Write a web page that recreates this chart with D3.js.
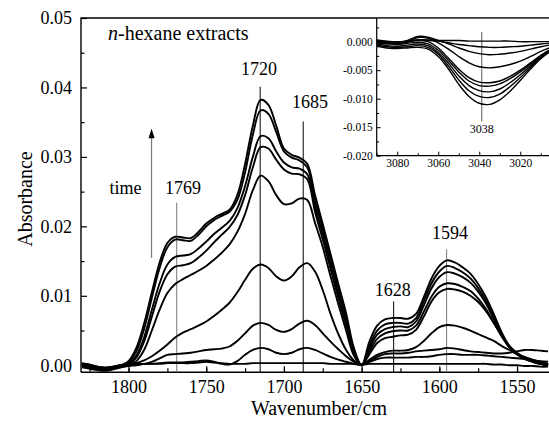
<!DOCTYPE html>
<html><head><meta charset="utf-8">
<script src="https://cdn.jsdelivr.net/npm/d3@7"></script>
<style>
body{margin:0;background:#fff}
svg{display:block}
text{font-family:"Liberation Serif","Times New Roman",serif;fill:#000}
</style>
</head><body>
<svg id="chart" width="549" height="422"></svg>
<script>
// ---------- DATA ----------
const wavenumbers = [1830,1825,1820,1815,1810,1805,1800,1795,1790,1785,1780,1775,1770,1765,1760,1755,1750,1745,1740,1735,1730,1725,1720,1715,1710,1705,1700,1695,1690,1685,1680,1675,1670,1665,1660,1655,1650,1645,1640,1635,1630,1625,1620,1615,1610,1605,1600,1595,1590,1585,1580,1575,1570,1565,1560,1555,1550,1545,1540,1535,1530];

const spectrum1 = [0.0002,0.0001,-0.0003,-0.0005,-0.0003,0.0000,0.0006,0.0025,0.0060,0.0105,
 0.0148,0.0176,0.0185,0.0184,0.0183,0.0192,0.0204,0.0212,0.0218,0.0224,
 0.0245,0.0290,0.0345,0.0382,0.0375,0.0345,0.0312,0.0303,0.0299,0.0290,
 0.0245,0.0203,0.0160,0.0117,0.0075,0.0025,0.0000,0.0034,0.0057,0.0066,
 0.0068,0.0068,0.0067,0.0074,0.0098,0.0125,0.0143,0.0151,0.0148,0.0141,
 0.0132,0.0117,0.0098,0.0074,0.0048,0.0028,0.0017,0.0010,0.0006,0.0002,
 0.0000];
const spectrum2 = [0.0000,-0.0002,-0.0004,-0.0006,-0.0004,-0.0001,0.0004,0.0020,0.0052,0.0097,
 0.0140,0.0170,0.0181,0.0180,0.0179,0.0188,0.0200,0.0209,0.0215,0.0221,
 0.0238,0.0278,0.0332,0.0367,0.0362,0.0336,0.0308,0.0299,0.0295,0.0285,
 0.0238,0.0197,0.0155,0.0112,0.0071,0.0022,0.0000,0.0028,0.0050,0.0059,
 0.0061,0.0061,0.0060,0.0068,0.0092,0.0118,0.0135,0.0143,0.0140,0.0134,
 0.0125,0.0111,0.0093,0.0070,0.0046,0.0027,0.0016,0.0009,0.0005,0.0002,
 0.0000];
const spectrum3 = [0.0003,0.0001,-0.0002,-0.0004,-0.0003,-0.0001,0.0002,0.0014,0.0040,0.0080,
 0.0118,0.0145,0.0156,0.0158,0.0160,0.0168,0.0178,0.0189,0.0198,0.0208,
 0.0226,0.0258,0.0300,0.0330,0.0327,0.0308,0.0292,0.0285,0.0283,0.0275,
 0.0229,0.0189,0.0147,0.0104,0.0064,0.0020,0.0000,0.0024,0.0044,0.0052,
 0.0055,0.0056,0.0055,0.0063,0.0086,0.0111,0.0127,0.0134,0.0132,0.0127,
 0.0119,0.0106,0.0089,0.0067,0.0044,0.0026,0.0016,0.0009,0.0005,0.0002,
 0.0000];
const spectrum4 = [-0.0002,-0.0004,-0.0006,-0.0007,-0.0005,-0.0002,0.0001,0.0011,0.0034,0.0070,
 0.0106,0.0131,0.0142,0.0144,0.0147,0.0155,0.0165,0.0177,0.0188,0.0199,
 0.0216,0.0245,0.0285,0.0314,0.0312,0.0296,0.0282,0.0276,0.0275,0.0268,
 0.0221,0.0181,0.0139,0.0097,0.0058,0.0017,0.0000,0.0020,0.0038,0.0046,
 0.0049,0.0050,0.0050,0.0057,0.0077,0.0099,0.0113,0.0118,0.0117,0.0113,
 0.0107,0.0096,0.0081,0.0062,0.0042,0.0026,0.0016,0.0010,0.0006,0.0003,
 0.0001];
const spectrum5 = [0.0001,-0.0001,-0.0003,-0.0005,-0.0004,-0.0002,0.0000,0.0006,0.0022,0.0050,
 0.0080,0.0104,0.0117,0.0124,0.0130,0.0136,0.0143,0.0152,0.0162,0.0174,
 0.0192,0.0218,0.0252,0.0273,0.0265,0.0245,0.0232,0.0233,0.0240,0.0238,
 0.0205,0.0170,0.0128,0.0088,0.0050,0.0014,0.0000,0.0016,0.0032,0.0039,
 0.0041,0.0043,0.0044,0.0051,0.0070,0.0092,0.0105,0.0110,0.0109,0.0106,
 0.0100,0.0091,0.0078,0.0061,0.0043,0.0028,0.0018,0.0011,0.0007,0.0004,
 0.0002];
const spectrum6 = [-0.0003,-0.0005,-0.0007,-0.0008,-0.0006,-0.0003,0.0000,0.0003,0.0007,0.0013,
 0.0021,0.0030,0.0040,0.0047,0.0052,0.0057,0.0063,0.0071,0.0080,0.0090,
 0.0105,0.0123,0.0139,0.0145,0.0140,0.0128,0.0122,0.0128,0.0141,0.0147,
 0.0135,0.0108,0.0074,0.0045,0.0022,0.0007,0.0000,0.0008,0.0015,0.0019,
 0.0021,0.0021,0.0022,0.0026,0.0035,0.0046,0.0055,0.0058,0.0057,0.0054,
 0.0050,0.0045,0.0040,0.0035,0.0028,0.0022,0.0016,0.0012,0.0008,0.0005,
 0.0002];
const spectrum7 = [0.0000,-0.0002,-0.0004,-0.0006,-0.0005,-0.0003,-0.0001,0.0000,0.0002,0.0005,
 0.0010,0.0015,0.0016,0.0017,0.0018,0.0020,0.0022,0.0023,0.0024,0.0027,
 0.0035,0.0046,0.0057,0.0061,0.0058,0.0051,0.0048,0.0052,0.0060,0.0064,
 0.0058,0.0046,0.0034,0.0023,0.0013,0.0005,0.0001,0.0006,0.0012,0.0016,
 0.0017,0.0017,0.0018,0.0020,0.0021,0.0022,0.0023,0.0025,0.0024,0.0022,
 0.0020,0.0019,0.0018,0.0017,0.0017,0.0018,0.0020,0.0022,0.0022,0.0021,
 0.0020];
const spectrum8 = [0.0002,0.0000,-0.0002,-0.0003,-0.0002,0.0000,0.0001,0.0001,0.0002,0.0002,
 0.0003,0.0004,0.0004,0.0004,0.0005,0.0006,0.0007,0.0005,0.0002,0.0001,
 0.0006,0.0015,0.0022,0.0025,0.0023,0.0018,0.0016,0.0018,0.0023,0.0025,
 0.0022,0.0017,0.0012,0.0008,0.0005,0.0002,0.0001,0.0005,0.0009,0.0011,
 0.0011,0.0011,0.0011,0.0012,0.0012,0.0013,0.0015,0.0016,0.0016,0.0015,
 0.0015,0.0015,0.0014,0.0013,0.0012,0.0011,0.0010,0.0009,0.0007,0.0006,
 0.0005];
const spectrum9 = [-0.0001,-0.0003,-0.0005,-0.0004,-0.0002,0.0000,0.0001,0.0002,0.0002,0.0002,
 0.0002,0.0003,0.0003,0.0003,0.0003,0.0004,0.0005,0.0004,0.0003,0.0002,
 0.0002,0.0002,0.0003,0.0003,0.0003,0.0003,0.0003,0.0003,0.0003,0.0003,
 0.0003,0.0003,0.0002,0.0002,0.0002,0.0002,0.0001,0.0002,0.0002,0.0002,
 0.0002,0.0002,0.0002,0.0002,0.0002,0.0002,0.0002,0.0002,0.0002,0.0002,
 0.0002,0.0002,0.0002,0.0001,0.0001,0.0000,0.0000,-0.0001,-0.0001,-0.0002,
 -0.0002];
const mainSeries = [spectrum1,spectrum2,spectrum3,spectrum4,spectrum5,spectrum6,spectrum7,spectrum8,spectrum9];

// inset (C-H region)
const insetWavenumbers = [3090,3085,3080,3075,3070,3065,3060,3055,3050,3045,3040,3035,3030,3025,3020,3015,3010,3006];
const inset1 = [-0.0008,-0.0011,-0.0012,-0.0011,-0.0010,-0.0013,-0.0026,-0.0048,-0.0075,-0.0096,-0.0108,-0.0110,-0.0102,-0.0087,-0.0068,-0.0048,-0.0030,-0.0019];
const inset2 = [-0.0006,-0.0009,-0.0010,-0.0009,-0.0007,-0.0010,-0.0022,-0.0043,-0.0067,-0.0086,-0.0096,-0.0098,-0.0092,-0.0079,-0.0063,-0.0045,-0.0028,-0.0018];
const inset3 = [-0.0004,-0.0007,-0.0008,-0.0006,-0.0004,-0.0007,-0.0019,-0.0038,-0.0060,-0.0077,-0.0086,-0.0088,-0.0083,-0.0072,-0.0058,-0.0042,-0.0026,-0.0017];
const inset4 = [-0.0002,-0.0004,-0.0005,-0.0003,-0.0001,-0.0004,-0.0015,-0.0033,-0.0053,-0.0069,-0.0077,-0.0078,-0.0074,-0.0065,-0.0053,-0.0039,-0.0025,-0.0016];
const inset5 = [0.0001,-0.0002,-0.0003,-0.0001,0.0003,0.0000,-0.0011,-0.0029,-0.0048,-0.0063,-0.0071,-0.0072,-0.0069,-0.0061,-0.0050,-0.0037,-0.0024,-0.0015];
const inset6 = [0.0000,-0.0002,-0.0003,0.0000,0.0007,0.0006,-0.0002,-0.0013,-0.0026,-0.0037,-0.0044,-0.0046,-0.0044,-0.0040,-0.0034,-0.0026,-0.0017,-0.0011];
const inset7 = [-0.0001,-0.0002,-0.0002,0.0002,0.0009,0.0008,0.0002,-0.0004,-0.0011,-0.0017,-0.0021,-0.0023,-0.0022,-0.0020,-0.0017,-0.0013,-0.0009,-0.0006];
const inset8 = [0.0002,0.0000,-0.0002,0.0000,0.0003,0.0003,0.0001,-0.0002,-0.0005,-0.0007,-0.0009,-0.0010,-0.0010,-0.0009,-0.0008,-0.0006,-0.0004,-0.0003];
const inset9 = [0.0003,0.0001,0.0000,0.0001,0.0002,0.0002,0.0002,0.0002,0.0002,0.0001,0.0001,0.0001,0.0001,0.0001,0.0000,0.0000,0.0000,0.0000];
const insetSeries = [inset1,inset2,inset3,inset4,inset5,inset6,inset7,inset8,inset9];

// tick values / labels
const xTicks = [1800,1750,1700,1650,1600,1550];
const xMinorTicks = [1825,1800,1775,1750,1725,1700,1675,1650,1625,1600,1575,1550];
const yTicks = [0.00,0.01,0.02,0.03,0.04,0.05];
const yMinorTicks = [0.005,0.015,0.025,0.035,0.045];
const insetXTicks = [3080,3060,3040,3020];
const insetXMinorTicks = [3090,3070,3050,3030,3010];
const insetYTicks = [0.000,-0.005,-0.010,-0.015,-0.020];
const insetYMinorTicks = [0.0025,-0.0025,-0.0075,-0.0125,-0.0175];

// peak annotations
const peakLabels = ["1769","1720","1685","1628","1594"];
const peakLinePos = [1769,1715.3,1687.6,1629.4,1595.3];
const peakLineTop = [0.0234,0.0401,0.0351,0.0092,0.0167];
const peakLabelPos = [1765,1716,1683.3,1629.9,1593.2];
const peakLabelY = [0.0247,0.0418,0.0371,0.0099,0.0182];
const peakLineGray = [true,false,false,false,true];
const insetPeakLabel = "3038";
const insetPeakPos = 3038.8;

// ---------- DRAW ----------
const svg = d3.select("#chart");
const L = 81, R = 548.1, T = 18, B = 372.2;
const x = d3.scaleLinear().domain([1830.6,1530]).range([L,R]);
const y = d3.scaleLinear().domain([-0.001,0.05]).range([B,T]);

svg.append("defs").append("clipPath").attr("id","clipMain")
  .append("rect").attr("x",L).attr("y",T).attr("width",549-L).attr("height",B-T);

// axes
const fmt2 = d3.format(".2f");
const gy = svg.append("g").attr("transform",`translate(${L},0)`)
  .call(d3.axisLeft(y).tickValues(yTicks).tickFormat(fmt2).tickSizeInner(-6).tickSizeOuter(0).tickPadding(9));
const gym = svg.append("g").attr("transform",`translate(${L},0)`)
  .call(d3.axisLeft(y).tickValues(yMinorTicks).tickFormat("").tickSizeInner(-3.5).tickSizeOuter(0));
const gx = svg.append("g").attr("transform",`translate(0,${B})`)
  .call(d3.axisBottom(x).tickValues(xTicks).tickFormat(d3.format("d")).tickSizeInner(-6).tickSizeOuter(0).tickPadding(8));
const gxm = svg.append("g").attr("transform",`translate(0,${B})`)
  .call(d3.axisBottom(x).tickValues(xMinorTicks).tickFormat("").tickSizeInner(-4).tickSizeOuter(0));
[gy,gym,gx,gxm].forEach(g=>{
  g.select(".domain").remove();
  g.selectAll(".tick line").attr("stroke","#000").attr("stroke-width",1.2);
  g.selectAll("text").style("font-size","18px").style("font-family","'Liberation Serif',serif").attr("fill","#000");
});

// frame
svg.append("path").attr("d",`M${L},${B}H549M${L},${B}V${T}H549`)
  .attr("fill","none").attr("stroke","#000").attr("stroke-width",1.4);

// peak marker lines
const gMarks = svg.append("g");
peakLabels.forEach((lab,i)=>{
  gMarks.append("line")
    .attr("x1",x(peakLinePos[i])).attr("x2",x(peakLinePos[i]))
    .attr("y1",y(peakLineTop[i])).attr("y2",B)
    .attr("stroke",peakLineGray[i]?"#777":"#000").attr("stroke-width",1);
  gMarks.append("text").attr("x",x(peakLabelPos[i])).attr("y",y(peakLabelY[i]))
    .attr("text-anchor","middle").style("font-size","18px").text(lab);
});

// spectra
const line = d3.line()
  .x((d,i)=>x(wavenumbers[i]))
  .y(d=>y(d))
  .curve(d3.curveCatmullRom.alpha(0.5));
svg.append("g").attr("clip-path","url(#clipMain)")
  .selectAll("path").data(mainSeries).join("path")
  .attr("d",d=>line(d)).attr("fill","none").attr("stroke","#000")
  .attr("stroke-width",1.9).attr("stroke-linejoin","round");

// time arrow
const arrowX = x(1785.2);
svg.append("line").attr("x1",arrowX).attr("x2",arrowX)
  .attr("y1",y(0.01545)).attr("y2",y(0.0328))
  .attr("stroke","#777").attr("stroke-width",1.2);
svg.append("path")
  .attr("d",`M${arrowX},${y(0.0341)}L${arrowX-3},${y(0.0327)}L${arrowX+3},${y(0.0327)}Z`)
  .attr("fill","#000");
svg.append("text").attr("x",x(1801.9)).attr("y",y(0.0247)).attr("text-anchor","middle")
  .style("font-size","18px").text("time");

// title text
const title = svg.append("text").attr("x",108).attr("y",40).style("font-size","20px");
title.append("tspan").style("font-style","italic").text("n");
title.append("tspan").text("-hexane extracts");

// axis titles
svg.append("text").attr("x",319).attr("y",415).attr("text-anchor","middle")
  .style("font-size","20px").text("Wavenumber/cm");
svg.append("text").attr("transform","translate(32,199) rotate(-90)").attr("text-anchor","middle")
  .style("font-size","20px").text("Absorbance");

// ---------- INSET ----------
const iL = 376.7, iR = 549, iT = 18, iB = 155.7;
const ix = d3.scaleLinear().domain([3090,3006]).range([iL,iR]);
const iy = d3.scaleLinear().domain([-0.020,0.00415]).range([iB,iT]);
const gi = svg.append("g");
gi.append("rect").attr("x",iL).attr("y",iT+0.8).attr("width",iR-iL).attr("height",iB-iT-0.8).attr("fill","#fff");
svg.append("defs").append("clipPath").attr("id","clipInset")
  .append("rect").attr("x",iL).attr("y",iT).attr("width",iR-iL).attr("height",iB-iT);

const fmt3 = d3.format(".3f");
const giy = gi.append("g").attr("transform",`translate(${iL},0)`)
  .call(d3.axisLeft(iy).tickValues(insetYTicks).tickFormat(d=>fmt3(d).replace("−","-")).tickSizeInner(-4).tickSizeOuter(0).tickPadding(4));
const giym = gi.append("g").attr("transform",`translate(${iL},0)`)
  .call(d3.axisLeft(iy).tickValues(insetYMinorTicks).tickFormat("").tickSizeInner(-2.5).tickSizeOuter(0));
const gix = gi.append("g").attr("transform",`translate(0,${iB})`)
  .call(d3.axisBottom(ix).tickValues(insetXTicks).tickFormat(d3.format("d")).tickSizeInner(-4).tickSizeOuter(0).tickPadding(3.5));
const gixm = gi.append("g").attr("transform",`translate(0,${iB})`)
  .call(d3.axisBottom(ix).tickValues(insetXMinorTicks).tickFormat("").tickSizeInner(-2.5).tickSizeOuter(0));
[giy,giym,gix,gixm].forEach(g=>{
  g.select(".domain").remove();
  g.selectAll(".tick line").attr("stroke","#000").attr("stroke-width",1);
  g.selectAll("text").style("font-size","11.5px").style("font-family","'Liberation Serif',serif").attr("fill","#000");
});
gi.append("path").attr("d",`M${iL},${iT}V${iB}H${iR}`).attr("fill","none").attr("stroke","#000").attr("stroke-width",1.2);

const iline = d3.line()
  .x((d,i)=>ix(insetWavenumbers[i]))
  .y(d=>iy(d))
  .curve(d3.curveCatmullRom.alpha(0.5));
gi.append("line").attr("x1",ix(insetPeakPos)).attr("x2",ix(insetPeakPos))
  .attr("y1",iy(0.0017)).attr("y2",iy(-0.0140)).attr("stroke","#777").attr("stroke-width",1.2);
gi.append("g").attr("clip-path","url(#clipInset)")
  .selectAll("path").data(insetSeries).join("path")
  .attr("d",d=>iline(d)).attr("fill","none").attr("stroke","#000").attr("stroke-width",1.4);
gi.append("text").attr("x",ix(insetPeakPos)).attr("y",iy(-0.0161)).attr("text-anchor","middle")
  .style("font-size","12px").text(insetPeakLabel);
</script>
</body></html>
